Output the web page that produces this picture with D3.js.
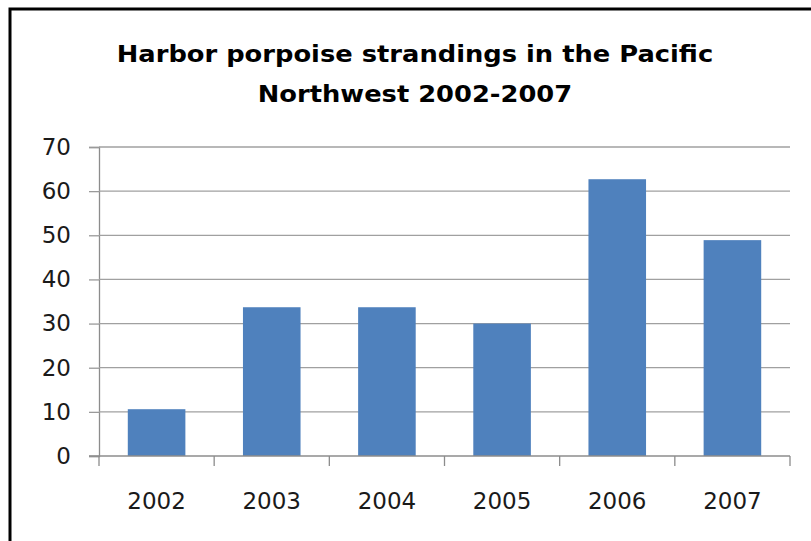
<!DOCTYPE html>
<html>
<head>
<meta charset="utf-8">
<script src="https://cdn.jsdelivr.net/npm/d3@7"></script>
<style>
  html, body { margin: 0; padding: 0; background: #fff; }
  svg { display: block; }
</style>
</head>
<body>
<svg id="chart" width="811" height="541"></svg>
<script>
const titleLines = ["Harbor porpoise strandings in the Pacific", "Northwest 2002-2007"];
const years = ["2002", "2003", "2004", "2005", "2006", "2007"];
const strandings = [10.6, 33.7, 33.7, 30, 62.7, 48.9];
const yTicks = [0, 10, 20, 30, 40, 50, 60, 70];

const svg = d3.select("#chart");
const W = 811, H = 541;
const plot = { left: 99, right: 790, top: 147, bottom: 456 };

svg.append("rect").attr("width", W).attr("height", H).attr("fill", "#fff");

// outer frame (extends beyond the visible area on right / bottom)
svg.append("rect")
  .attr("x", 10).attr("y", 9)
  .attr("width", W + 20).attr("height", H + 20)
  .attr("fill", "none").attr("stroke", "#000").attr("stroke-width", 3);

const x = d3.scaleBand().domain(years).range([plot.left, plot.right]).paddingInner(0.5).paddingOuter(0.25);
const y = d3.scaleLinear().domain([0, 70]).range([plot.bottom, plot.top]);

// y axis
const yAxis = d3.axisLeft(y).tickValues(yTicks).tickSize(10).tickPadding(18);
const gy = svg.append("g").attr("transform", `translate(${plot.left},0)`).call(yAxis);
gy.select(".domain").attr("stroke", "#8c8c8c").attr("stroke-width", 1.3);
gy.selectAll(".tick line").attr("stroke", "#9a9a9a").attr("stroke-width", 1.3);
gy.selectAll(".tick text")
  .attr("font-family", "DejaVu Sans").attr("font-size", 23).attr("fill", "#1a1a1a");

// gridlines
svg.append("g").selectAll("line").data(yTicks.filter(d => d > 0)).join("line")
  .attr("x1", plot.left).attr("x2", plot.right)
  .attr("y1", d => y(d)).attr("y2", d => y(d))
  .attr("stroke", "#a0a0a0").attr("stroke-width", 1.3);

// bars
svg.append("g").selectAll("rect").data(years).join("rect")
  .attr("x", d => x(d))
  .attr("width", x.bandwidth())
  .attr("y", (d, i) => y(strandings[i]))
  .attr("height", (d, i) => y(0) - y(strandings[i]))
  .attr("fill", "#4f81bd");

// x axis: ticks at category boundaries
const boundaries = d3.range(years.length + 1).map(i => plot.left + i * (plot.right - plot.left) / years.length);
svg.append("line")
  .attr("x1", plot.left - 10).attr("x2", plot.right)
  .attr("y1", y(0)).attr("y2", y(0))
  .attr("stroke", "#8c8c8c").attr("stroke-width", 1.3);
svg.append("g").selectAll("line").data(boundaries).join("line")
  .attr("x1", d => d).attr("x2", d => d)
  .attr("y1", y(0)).attr("y2", y(0) + 10)
  .attr("stroke", "#8c8c8c").attr("stroke-width", 1.3);
svg.append("g").selectAll("text").data(years).join("text")
  .attr("x", d => x(d) + x.bandwidth() / 2)
  .attr("y", 509)
  .attr("text-anchor", "middle")
  .attr("font-family", "DejaVu Sans").attr("font-size", 23).attr("fill", "#1a1a1a")
  .text(d => d);

// title (slightly stretched horizontally like the reference)
svg.append("g").attr("transform", "translate(415,0) scale(1.12,1)")
  .selectAll("text").data(titleLines).join("text")
  .attr("x", 0)
  .attr("y", (d, i) => 62 + i * 40)
  .attr("text-anchor", "middle")
  .attr("font-family", "DejaVu Sans").attr("font-weight", "bold").attr("font-size", 23)
  .attr("fill", "#000")
  .text(d => d);
</script>
</body>
</html>
